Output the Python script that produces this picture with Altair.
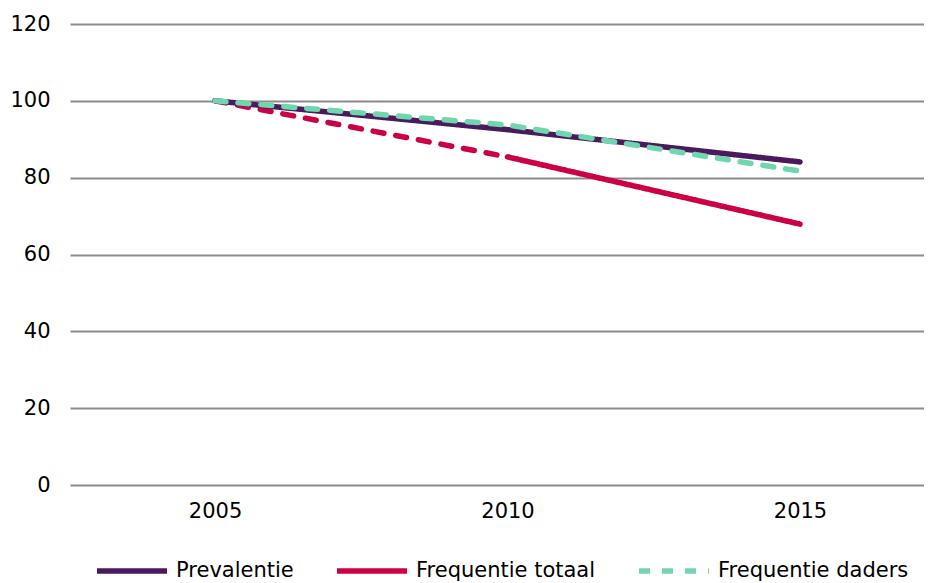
import altair as alt
import pandas as pd

years = [2005, 2010, 2015]
prevalentie = [100, 92.5, 84.1]
frequentie_totaal = [100, 85.4, 67.9]
frequentie_daders = [100, 93.7, 81.7]
series_names = ["Prevalentie", "Frequentie totaal", "Frequentie daders"]
colors = ["#4b1a5e", "#cc0044", "#6fd6ad"]
y_ticks = [0, 20, 40, 60, 80, 100, 120]

rows = []
for yr, v in zip(years[1:], frequentie_totaal[1:]):
    rows.append({"serie": "Frequentie totaal", "jaar": yr, "waarde": v})
for yr, v in zip(years, prevalentie):
    rows.append({"serie": "Prevalentie", "jaar": yr, "waarde": v})
for yr, v in zip(years, frequentie_daders):
    rows.append({"serie": "Frequentie daders", "jaar": yr, "waarde": v})
main = pd.DataFrame(rows)
dashed = pd.DataFrame({"jaar": years[:2], "waarde": frequentie_totaal[:2]})

FONT = "DejaVu Sans"

x = alt.X(
    "jaar:Q",
    scale=alt.Scale(domain=[2002.521, 2017.12], nice=False, zero=False),
    axis=alt.Axis(values=years, format="d", title=None, grid=False, ticks=False,
                  domain=False, labelPadding=15, labelFontSize=21, labelColor="#000000",
                  labelFont=FONT),
)
y = alt.Y(
    "waarde:Q",
    scale=alt.Scale(domain=[0, 120], nice=False),
    axis=alt.Axis(values=y_ticks, title=None, ticks=False, domain=False,
                  gridColor="#8c8c8c", gridWidth=2, labelPadding=20,
                  labelFontSize=21, labelColor="#000000", labelFont=FONT),
)

leg = alt.Legend(
    title=None, orient="none", legendX=24, legendY=509, direction="horizontal",
    symbolType="stroke", symbolSize=4900, symbolStrokeWidth=5.5,
    labelFontSize=21, labelFont=FONT, labelColor="#000000", labelOffset=6,
    labelLimit=400, columnPadding=32,
)

red_dashed = alt.Chart(dashed).mark_line(
    color="#cc0044", strokeDash=[11, 12], strokeWidth=5.5, strokeCap="round"
).encode(x=x, y=y)

lines = alt.Chart(main).mark_line(strokeWidth=5.5, strokeCap="round").encode(
    x=x,
    y=y,
    color=alt.Color("serie:N", scale=alt.Scale(domain=series_names, range=colors), legend=leg),
    strokeDash=alt.StrokeDash("serie:N", scale=alt.Scale(domain=series_names,
                              range=[[1, 0], [1, 0], [11, 12]]), legend=leg),
)

chart = alt.layer(red_dashed, lines).properties(
    width=854, height=461,
    autosize=alt.AutoSizeParams(type="none"),
    padding={"left": 62, "top": 16, "right": 0, "bottom": 98},
).configure(font=FONT).configure_view(stroke=None)

chart.save("out.html", embed_options={"renderer": "svg", "actions": False})
